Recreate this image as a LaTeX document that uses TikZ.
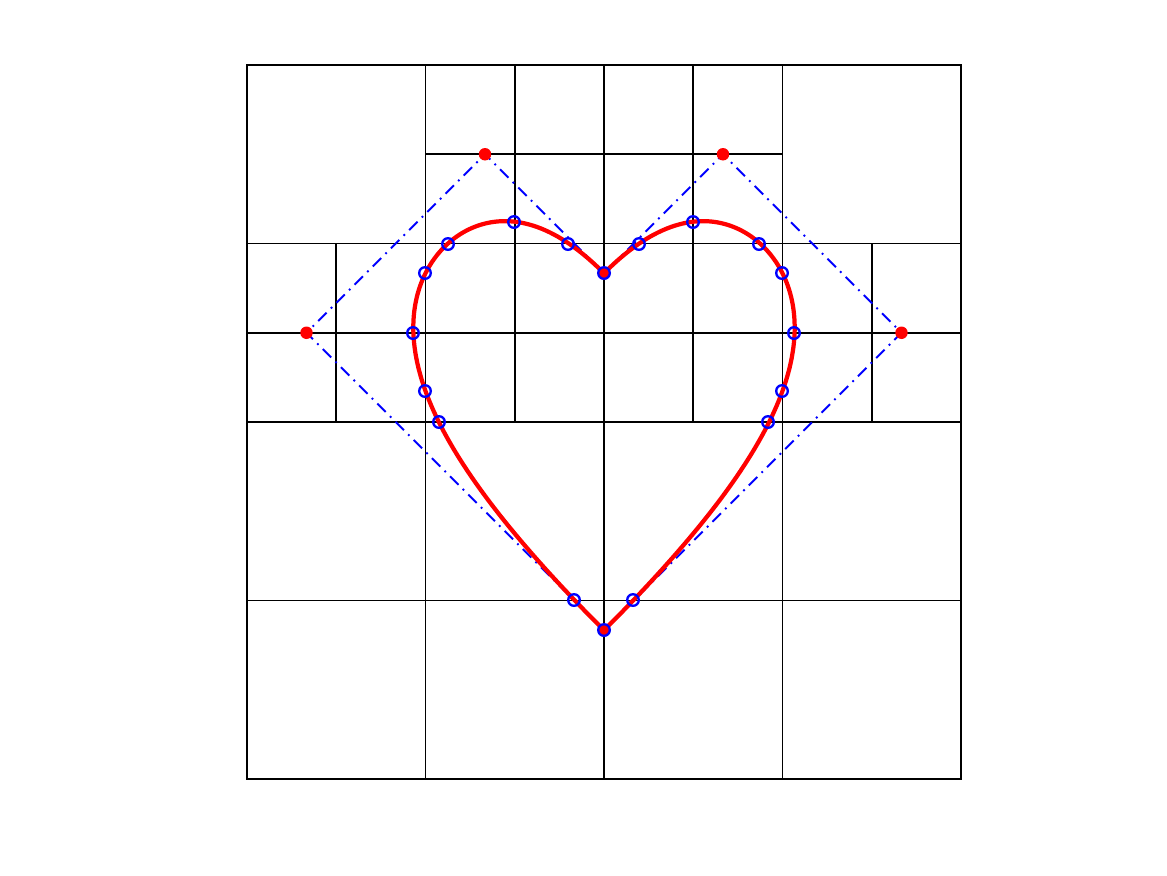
\documentclass[tikz,border=0pt]{standalone}
\begin{document}
\begin{tikzpicture}[
  gridline/.style={black,line width=0.6pt},
  frameline/.style={black,line width=0.8pt},
  ctrlpoly/.style={blue,line width=0.6pt,dash pattern=on 3.8pt off 1.9pt on 0.6pt off 1.9pt},
  heartcurve/.style={red,line width=1.35pt},
  ctrlpt/.style={circle,fill=red,inner sep=0pt,minimum size=0.14cm},
  cutpt/.style={circle,draw=blue,line width=0.75pt,inner sep=0pt,minimum size=0.13cm}
]
\useasboundingbox (-2.7675,-1.0756) rectangle (10.3081,8.7283);
% quadtree grid
\draw[gridline] (1,4) -- (1,6);
\draw[gridline] (2,0) -- (2,8);
\draw[gridline] (3,4) -- (3,8);
\draw[gridline] (4,0) -- (4,8);
\draw[gridline] (5,4) -- (5,8);
\draw[gridline] (6,0) -- (6,8);
\draw[gridline] (7,4) -- (7,6);
\draw[gridline] (0,2) -- (8,2);
\draw[gridline] (0,4) -- (8,4);
\draw[gridline] (0,5) -- (8,5);
\draw[gridline] (0,6) -- (8,6);
\draw[gridline] (2,7) -- (6,7);
\draw[frameline] (0,0) rectangle (8,8);
% control points
\coordinate (B) at (4,5/3);
\coordinate (L1) at (2/3,5);
\coordinate (L2) at (8/3,7);
\coordinate (T) at (4,17/3);
\coordinate (R2) at (16/3,7);
\coordinate (R1) at (22/3,5);
\draw[ctrlpoly] (B) -- (L1) -- (L2) -- (T) -- (R2) -- (R1) -- cycle;
% rational cubic heart (weights 1,2,2,1)
\draw[heartcurve] plot[domain=0:1,samples=120,smooth,variable=\t]
  ({((1-\t)^3*4 + 6*\t*(1-\t)^2*(2/3) + 6*\t^2*(1-\t)*(8/3) + \t^3*4)/((1-\t)^3 + 6*\t*(1-\t)^2 + 6*\t^2*(1-\t) + \t^3)},
   {((1-\t)^3*(5/3) + 6*\t*(1-\t)^2*5 + 6*\t^2*(1-\t)*7 + \t^3*(17/3))/((1-\t)^3 + 6*\t*(1-\t)^2 + 6*\t^2*(1-\t) + \t^3)});
\draw[heartcurve] plot[domain=0:1,samples=120,smooth,variable=\t]
  ({((1-\t)^3*4 + 6*\t*(1-\t)^2*(22/3) + 6*\t^2*(1-\t)*(16/3) + \t^3*4)/((1-\t)^3 + 6*\t*(1-\t)^2 + 6*\t^2*(1-\t) + \t^3)},
   {((1-\t)^3*(5/3) + 6*\t*(1-\t)^2*5 + 6*\t^2*(1-\t)*7 + \t^3*(17/3))/((1-\t)^3 + 6*\t*(1-\t)^2 + 6*\t^2*(1-\t) + \t^3)});
% control point markers
\node[ctrlpt] (pB) at (B) {};
\node[ctrlpt] (pL1) at (L1) {};
\node[ctrlpt] (pL2) at (L2) {};
\node[ctrlpt] (pT) at (T) {};
\node[ctrlpt] (pR2) at (R2) {};
\node[ctrlpt] (pR1) at (R1) {};
% intersections with cell boundaries
\foreach \px/\py [count=\i] in {604/273,568/244,639/244,514/222,693/222,448/244,759/244,425/273,782/273,413/333,794/333,425/391,782/391,439/422,768/422,574/600,633/600,604/630}{
  \node[cutpt] (c\i) at ({(\px-247)/89.25},{(779-\py)/89.25}) {};
}
\end{tikzpicture}
\end{document}
